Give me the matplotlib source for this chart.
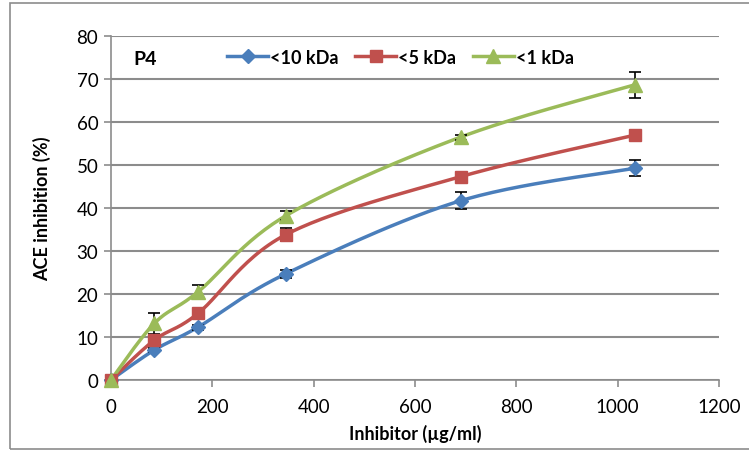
import numpy as np
import matplotlib
matplotlib.use('Agg')
import matplotlib.pyplot as plt
from matplotlib.patches import Rectangle

plt.rcParams['font.family'] = ['Lato', 'DejaVu Sans']

# data
conc = [0, 86, 172, 345, 690, 1035]
kda10 = [0, 7.0, 12.3, 24.7, 41.7, 49.3]
kda10_err = [0, 0.5, 0.6, 1.0, 2.0, 1.8]
kda5 = [0, 9.3, 15.5, 33.8, 47.3, 57.0]
kda5_err = [0, 0.6, 1.0, 1.5, 0.6, 1.0]
kda1 = [0, 13.2, 20.5, 38.2, 56.5, 68.7]
kda1_err = [0, 2.5, 1.5, 1.0, 0.6, 3.0]

labels = ['<10 kDa', '<5 kDa', '<1 kDa']
colors = ['#4A7EBB', '#C0504D', '#9BBB59']
markers = ['D', 's', '^']
msizes = [7, 9, 10]


def smooth(x, y, n=30):
    # Excel style smoothed line: cubic bezier with catmull-rom control points
    x = np.asarray(x, float)
    y = np.asarray(y, float)
    px = np.concatenate([[x[0]], x, [x[-1]]])
    py = np.concatenate([[y[0]], y, [y[-1]]])
    xs, ys = [], []
    t = np.linspace(0, 1, n)
    for i in range(1, len(px) - 2):
        p0 = np.array([px[i], py[i]])
        p3 = np.array([px[i + 1], py[i + 1]])
        p1 = p0 + (p3 - np.array([px[i - 1], py[i - 1]])) / 6
        p2 = p3 - (np.array([px[i + 2], py[i + 2]]) - p0) / 6
        b = ((1 - t) ** 3)[:, None] * p0 + (3 * (1 - t) ** 2 * t)[:, None] * p1 \
            + (3 * (1 - t) * t ** 2)[:, None] * p2 + (t ** 3)[:, None] * p3
        xs.extend(b[:, 0])
        ys.extend(b[:, 1])
    return xs, ys


fig = plt.figure(figsize=(7.49, 4.52), dpi=100)
ax = fig.add_axes([0.148, 0.157, 0.812, 0.761])

fig.patches.append(Rectangle((10 / 749, 2 / 452), 1.0, 446 / 452, transform=fig.transFigure,
                             facecolor='none', edgecolor='#8c8c8c', linewidth=1.2))

series = [(kda10, kda10_err), (kda5, kda5_err), (kda1, kda1_err)]
for (vals, err), lab, c, m, ms in zip(series, labels, colors, markers, msizes):
    sx, sy = smooth(conc, vals)
    ax.plot(sx, sy, color=c, linewidth=2.5, zorder=3)
    ax.errorbar(conc, vals, yerr=err, fmt='none', ecolor='black', elinewidth=1.2,
                capsize=4, capthick=1.2, zorder=4)
    ax.plot(conc, vals, linestyle='none', marker=m, markersize=ms, color=c, zorder=5,
            clip_on=False)
    ax.plot([], [], color=c, linewidth=2.5, marker=m, markersize=ms, label=lab)

ax.set_xlim(0, 1200)
ax.set_ylim(0, 80)
ax.set_xticks(range(0, 1201, 200))
ax.set_yticks(range(0, 81, 10))
ax.yaxis.grid(True, color='#8c8c8c', linewidth=1.5)
ax.set_axisbelow(True)
for s in ['top', 'right']:
    ax.spines[s].set_visible(False)
for s in ['left', 'bottom']:
    ax.spines[s].set_color('#8c8c8c')
    ax.spines[s].set_linewidth(1.2)
ax.tick_params(axis='both', colors='#8c8c8c', labelcolor='black', labelsize=13.5, length=5, width=1.2)
ax.tick_params(axis='x', pad=8)
ax.tick_params(axis='y', pad=4)

ax.set_xlabel('Inhibitor (µg/ml)', fontsize=13, fontweight='bold', labelpad=6)
ax.set_ylabel('ACE inhibition (%)', fontsize=13, fontweight='bold', labelpad=18)

ax.text(0.037, 0.935, 'P4', transform=ax.transAxes, fontsize=14, fontweight='bold', va='center')
leg = ax.legend(loc='upper left', bbox_to_anchor=(0.17, 1.0), ncol=3, frameon=False,
                prop={'size': 13, 'weight': 'bold'}, handlelength=2.3, handletextpad=0.1,
                columnspacing=0.9, borderaxespad=0.3)

fig.savefig('out.png', dpi=100, facecolor='white')
